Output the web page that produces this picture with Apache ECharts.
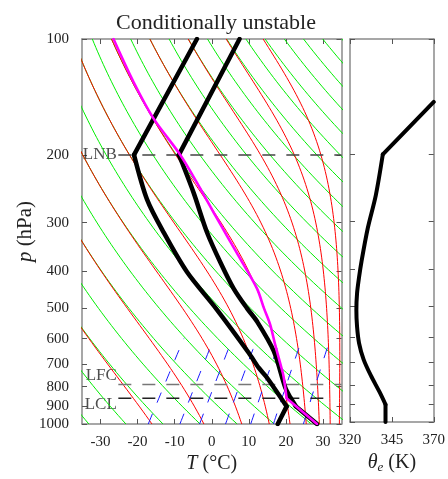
<!DOCTYPE html>
<html><head><meta charset="utf-8">
<script src="https://cdn.jsdelivr.net/npm/echarts@6/dist/echarts.min.js"></script>
<style>html,body{margin:0;padding:0;background:#fff}#c{width:448px;height:479px}</style>
</head><body><div id="c"></div>
<script>
// ---------------- data ----------------
const SKEW = 70; // skew of isotherms, degC per decade of pressure
const xTicks = [-30, -20, -10, 0, 10, 20, 30];
const pTicks = [100, 200, 300, 400, 500, 600, 700, 800, 900, 1000];
const thetaTicks = [320, 345, 370];
const dryThetas = [240, 250, 260, 270, 280, 290, 300, 310, 320, 330, 340, 350, 360, 370, 380, 390, 400, 410, 420, 430, 440, 450, 460];
const moistThetaEs = [260, 280, 300, 320, 340, 360, 380, 400, 420];
const mixRatios = [1, 2, 3, 5, 8, 12, 20]; // g/kg
// environmental temperature
const tempP = [1000, 900, 852, 804, 647, 541, 500, 445, 380, 318, 251, 210, 200, 100];
const tempT = [28.4, 19.5, 16.3, 13.2, 3.5, -6.5, -11.6, -18.7, -27.1, -36.1, -46.9, -55.4, -57.8, -62.5];
// dew point
const dewP = [1000, 900, 757, 714, 653, 500, 403, 318, 261, 200, 100];
const dewT = [17.8, 17.0, 6.4, 2.4, -3.0, -20.0, -34.3, -47.8, -58.3, -69.9, -74.0];
// lifted parcel
const parcelP = [1000, 857, 750, 700, 621, 552, 500, 445, 372, 324, 282, 236, 200, 161, 129.5, 100];
const parcelT = [28.4, 15.5, 10.6, 7.7, 2.6, -2.3, -7.0, -12.4, -22.4, -30.2, -38.0, -47.9, -57.4, -71.2, -83.2, -96.5];
// equivalent potential temperature profile
const thetaEP = [1000, 900, 836, 757, 686, 622, 563, 510, 462, 419, 380, 312, 256, 200, 146];
const thetaEV = [341.2, 341.2, 337.7, 332.5, 328.1, 325.4, 324.2, 323.8, 324.2, 325.4, 326.9, 330.6, 335.4, 339.6, 370];
// special levels
const levelNames = ['LNB', 'LFC', 'LCL'];
const levelP = [200, 790, 857];
const levelXStart = [-25.2, -25.2, -25.2];
const levelXEnd = [35, 35, 32.4];
// pressures where the profiles have sharp corners
const tempCorners = [900, 200];
const dewCorners = [900, 200];
const parcelCorners = [857];
const thetaECorners = [900, 200];

// ---------------- helpers ----------------
const FONT = 'Liberation Serif';
const TXT = '#222';
const skewX = (T, p) => T + SKEW * Math.log10(1000 / p);
const Y = p => Math.log10(p);
const es = Tc => 6.112 * Math.exp(17.67 * Tc / (Tc + 243.5));
function thetaE(Tk, p) {
  const e = es(Tk - 273.15);
  if (e >= 0.5 * p) return Infinity;
  const r = 622 * e / (p - e);
  return Tk * Math.pow(1000 / p, 0.2857) * Math.exp((3.376 / Tk - 0.00254) * r * (1 + 0.00081 * r));
}
function moistT(the, p) {
  let lo = 150, hi = 345;
  for (let i = 0; i < 60; i++) {
    const mid = (lo + hi) / 2;
    if (thetaE(mid, p) > the) hi = mid; else lo = mid;
  }
  return (lo + hi) / 2 - 273.15;
}
const P = [];
for (let i = 0; i <= 90; i++) P.push(1000 * Math.pow(10, -i / 90));
const Pmix = [];
for (let i = 0; i <= 20; i++) Pmix.push(1000 - i * 20);

const series = [];
const base = { type: 'line', xAxisIndex: 0, yAxisIndex: 0, symbol: 'none', showSymbol: false, silent: true, animation: false, clip: true };
dryThetas.forEach(th => {
  series.push(Object.assign({}, base, {
    data: P.map(p => [skewX(th * Math.pow(p / 1000, 0.2857) - 273.15, p), Y(p)]),
    lineStyle: { color: '#00ee00', width: 1 }
  }));
});
moistThetaEs.forEach(th => {
  series.push(Object.assign({}, base, {
    data: P.map(p => [skewX(moistT(th, p), p), Y(p)]),
    lineStyle: { color: '#ff0000', width: 1 }
  }));
});
mixRatios.forEach(r => {
  series.push(Object.assign({}, base, {
    data: Pmix.map(p => {
      const e = r * p / (622 + r);
      const l = Math.log(e / 6.112);
      const Tc = 243.5 * l / (17.67 - l);
      return [skewX(Tc, p), Y(p)];
    }),
    lineStyle: { color: '#1a1aff', width: 1, type: [11, 12] }
  }));
});
const levelColors = ['#444', '#777', '#222'];
levelNames.forEach((n, i) => {
  series.push(Object.assign({}, base, {
    data: [[levelXStart[i], Y(levelP[i])], [levelXEnd[i], Y(levelP[i])]],
    lineStyle: { color: levelColors[i], width: 1.5, type: [13, 11] }
  }));
});
function addProfile(Ps, Vs, corners, toX, axes, color, width) {
  let seg = [];
  Ps.forEach((p, i) => {
    seg.push([toX(Vs[i], p), Y(p)]);
    if ((corners.includes(p) && seg.length > 1) || i === Ps.length - 1) {
      series.push(Object.assign({}, base, axes, {
        data: seg, smooth: seg.length > 2 ? 0.3 : false,
        lineStyle: { color, width, cap: 'round', join: 'round' }
      }));
      seg = [[toX(Vs[i], p), Y(p)]];
    }
  });
}
const left = { xAxisIndex: 0, yAxisIndex: 0 };
addProfile(tempP, tempT, tempCorners, skewX, left, '#000', 4.5);
addProfile(dewP, dewT, dewCorners, skewX, left, '#000', 4.5);
addProfile(parcelP, parcelT, parcelCorners, skewX, left, '#ff00ff', 2.6);
addProfile(thetaEP, thetaEV, thetaECorners, v => v, { xAxisIndex: 2, yAxisIndex: 2 }, '#000', 4);

const labOff = [[0, 0], [0, -9], [0, 6]];
series.push({
  type: 'scatter', xAxisIndex: 0, yAxisIndex: 0, silent: true, animation: false,
  symbolSize: 1, itemStyle: { color: 'rgba(0,0,0,0)' },
  data: levelNames.map((n, i) => ({
    value: [levelXStart[i], Y(levelP[i])],
    label: { show: true, position: 'left', distance: 1, offset: labOff[i], formatter: n, fontFamily: FONT, fontSize: 17, color: TXT }
  }))
});

const axisLine = { show: true, onZero: false, lineStyle: { color: '#8a8a8a', width: 1.5 } };
const tick = vals => ({ show: true, inside: true, length: 5, customValues: vals, lineStyle: { color: '#555', width: 1 } });
const lab = (vals, fmt, margin) => ({ show: true, customValues: vals, formatter: fmt, fontFamily: FONT, fontSize: 15, color: TXT, margin: margin });
const noLab = { show: false };
const pVals = pTicks.map(Y);
const pFmt = v => String(Math.round(Math.pow(10, v)));

const option = {
  animation: false,
  title: { text: 'Conditionally unstable', left: 211, top: 7, textAlign: 'center',
    textStyle: { fontFamily: FONT, fontSize: 22, fontWeight: 'normal', color: TXT } },
  grid: [
    { left: 82, top: 39, width: 259.5, height: 388 },
    { left: 350, top: 39, width: 86.7, height: 388 }
  ],
  xAxis: [
    { type: 'value', gridIndex: 0, position: 'bottom', min: -35, max: 35, axisLine, axisTick: tick(xTicks), axisLabel: lab(xTicks, v => String(v), 11), splitLine: { show: false },
      name: '{i|T} (°C)', nameLocation: 'middle', nameGap: 30, nameMoveOverlap: false,
      nameTextStyle: { fontFamily: FONT, fontSize: 20, color: TXT, rich: { i: { fontFamily: FONT, fontSize: 20, fontStyle: 'italic', color: TXT } } } },
    { type: 'value', gridIndex: 0, position: 'top', min: -35, max: 35, axisLine, axisTick: tick(xTicks), axisLabel: noLab, splitLine: { show: false } },
    { type: 'value', gridIndex: 1, position: 'bottom', min: 320, max: 370, axisLine, axisTick: tick(thetaTicks), axisLabel: lab(thetaTicks, v => String(v), 11), splitLine: { show: false },
      name: '{i|θ}{s|e} (K)', nameLocation: 'middle', nameGap: 30, nameMoveOverlap: false,
      nameTextStyle: { fontFamily: FONT, fontSize: 20, color: TXT, rich: {
        i: { fontFamily: FONT, fontSize: 20, fontStyle: 'italic', color: TXT },
        s: { fontFamily: FONT, fontSize: 13, fontStyle: 'italic', color: TXT, padding: [9, 0, 0, 0] } } } },
    { type: 'value', gridIndex: 1, position: 'top', min: 320, max: 370, axisLine, axisTick: tick(thetaTicks), axisLabel: noLab, splitLine: { show: false } }
  ],
  yAxis: [
    { type: 'value', gridIndex: 0, position: 'left', min: 2, max: 3, inverse: true, axisLine, axisTick: tick(pVals), axisLabel: lab(pVals, pFmt, 13), splitLine: { show: false },
      name: '{i|p} (hPa)', nameLocation: 'middle', nameGap: 46, nameRotate: 90, nameMoveOverlap: false,
      nameTextStyle: { fontFamily: FONT, fontSize: 21, color: TXT, rich: { i: { fontFamily: FONT, fontSize: 21, fontStyle: 'italic', color: TXT } } } },
    { type: 'value', gridIndex: 0, position: 'right', min: 2, max: 3, inverse: true, axisLine, axisTick: tick(pVals), axisLabel: noLab, splitLine: { show: false } },
    { type: 'value', gridIndex: 1, position: 'left', min: 2, max: 3, inverse: true, axisLine, axisTick: tick(pVals), axisLabel: noLab, splitLine: { show: false } },
    { type: 'value', gridIndex: 1, position: 'right', min: 2, max: 3, inverse: true, axisLine, axisTick: tick(pVals), axisLabel: noLab, splitLine: { show: false } }
  ],
  series
};
const chart = echarts.init(document.getElementById('c'), null, { renderer: 'canvas' });
chart.setOption(option);
</script></body></html>
